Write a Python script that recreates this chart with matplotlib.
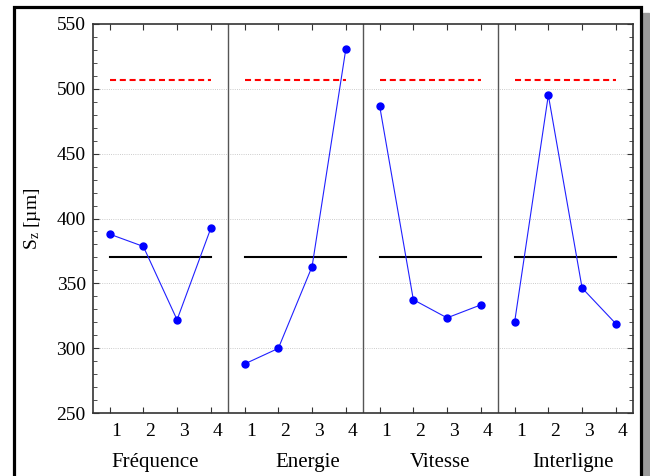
import matplotlib.pyplot as plt
import matplotlib.transforms as mtransforms
from matplotlib.patches import Rectangle

plt.rcParams['font.family'] = ['Liberation Serif', 'DejaVu Serif']
plt.rcParams['mathtext.fontset'] = 'custom'
plt.rcParams['mathtext.rm'] = 'Liberation Serif'
plt.rcParams['mathtext.it'] = 'Liberation Serif:italic'

factors = ['Fréquence', 'Energie', 'Vitesse', 'Interligne']
levels = [1, 2, 3, 4]
sz_means = [
    [388, 378.5, 322, 392.5],
    [288, 300, 363, 530.5],
    [487, 337.5, 323.5, 333.5],
    [320, 495, 346.5, 319],
]
target_sz = 507
mean_sz = 370.6

fig = plt.figure(figsize=(6.5, 4.76), dpi=100)
ax = fig.add_axes([0.1426, 0.1317, 0.8308, 0.8185])

# outer frame + shadow
fig.patches.append(Rectangle((643 / 650, -0.1), 6 / 650, 1 - 13 / 476 + 0.1,
                             transform=fig.transFigure, color='#9a9a9a', zorder=0))
fig.patches.append(Rectangle((14 / 650, -0.1), 627 / 650, 1 - 7 / 476 + 0.1,
                             transform=fig.transFigure, fill=False,
                             edgecolor='black', lw=2.3, zorder=1))

ticks = []
for k, vals in enumerate(sz_means):
    xs = [lv + 4 * k for lv in levels]
    ticks += xs
    ax.plot(xs, vals, color='#2020ff', lw=0.8, marker='o', ms=5,
            mfc='blue', mec='blue', zorder=4)
    ax.plot([xs[0], xs[-1]], [target_sz] * 2, color='red', lw=1.5,
            dashes=(2.9, 1.8), zorder=3)
    ax.plot([xs[0], xs[-1]], [mean_sz] * 2, color='black', lw=1.5, zorder=3)
    if k > 0:
        ax.axvline(4 * k + 0.5, color='#555555', lw=1, zorder=2)

name_x = [2.34, 2.88, 2.79, 2.73]
for k, name in enumerate(factors):
    ax.text(name_x[k] + 4 * k, -0.125, name, ha='center', va='center',
            fontsize=15, transform=ax.get_xaxis_transform())

ax.set_xlim(0.5, 16.5)
ax.set_ylim(250, 550)
ax.set_xticks(ticks)
ax.set_xticklabels([str(lv) for lv in levels] * 4, fontsize=14)
ax.set_yticks(range(250, 551, 50))
ax.set_yticks(range(250, 551, 10), minor=True)
ax.tick_params(axis='y', labelsize=14)
ax.tick_params(direction='in', top=True, right=True, which='both', color='#333333')
ax.tick_params(axis='x', length=4, pad=7)
ax.tick_params(axis='y', which='major', length=4, pad=5)
ax.tick_params(axis='y', which='minor', length=3)

offset = mtransforms.ScaledTranslation(6.5 / 100, 0, fig.dpi_scale_trans)
for lab in ax.get_xticklabels():
    lab.set_transform(lab.get_transform() + offset)

for y in range(300, 550, 50):
    ax.axhline(y, color='#bbbbbb', lw=0.6, ls=':', zorder=1)

for sp in ax.spines.values():
    sp.set_color('#333333')
    sp.set_linewidth(1.2)

ax.set_ylabel(r'$\mathrm{S_z}$ [µm]', fontsize=14, labelpad=10)

fig.savefig('out.png', dpi=100)
